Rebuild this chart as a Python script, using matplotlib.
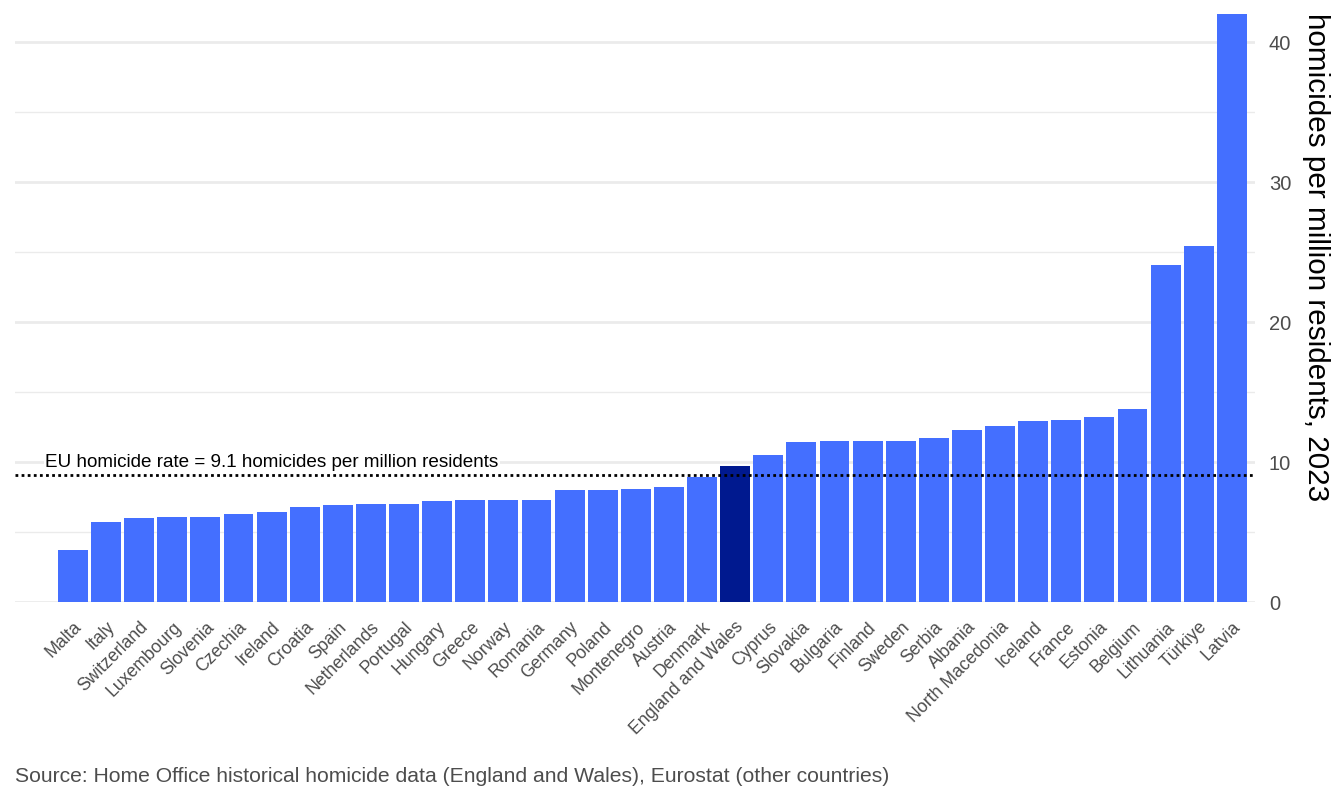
import matplotlib
matplotlib.use("Agg")
import matplotlib.pyplot as plt
from matplotlib.ticker import MultipleLocator

plt.rcParams['font.family'] = ['Liberation Sans', 'DejaVu Sans']

countries = ["Malta", "Italy", "Switzerland", "Luxembourg", "Slovenia", "Czechia", "Ireland",
             "Croatia", "Spain", "Netherlands", "Portugal", "Hungary", "Greece", "Norway",
             "Romania", "Germany", "Poland", "Montenegro", "Austria", "Denmark",
             "England and Wales", "Cyprus", "Slovakia", "Bulgaria", "Finland", "Sweden",
             "Serbia", "Albania", "North Macedonia", "Iceland", "France", "Estonia",
             "Belgium", "Lithuania", "Türkiye", "Latvia"]
rates = [3.7, 5.7, 6.0, 6.1, 6.1, 6.3, 6.4, 6.8, 6.9, 7.0, 7.0, 7.2, 7.3, 7.3,
         7.3, 8.0, 8.0, 8.1, 8.2, 8.9, 9.7, 10.5, 11.4, 11.5, 11.5, 11.5,
         11.7, 12.3, 12.6, 12.9, 13.0, 13.2, 13.8, 24.1, 25.4, 42.0]
highlight = "England and Wales"
eu_rate = 9.1
eu_label = "EU homicide rate = 9.1 homicides per million residents"
y_label = "homicides per million residents, 2023"
source = "Source: Home Office historical homicide data (England and Wales), Eurostat (other countries)"

W, H = 1344, 806
fig = plt.figure(figsize=(W / 100, H / 100), dpi=100)
ax = fig.add_axes([15 / W, (H - 602) / H, (1255 - 15) / W, (602 - 14) / H])

x = list(range(len(countries)))
colors = ["#00198f" if c == highlight else "#446fff" for c in countries]
ax.bar(x, rates, width=0.9, color=colors, zorder=2)

ax.set_xlim(-1.75, len(countries) - 0.3)
ax.set_ylim(0, 42)

ax.yaxis.set_major_locator(MultipleLocator(10))
ax.yaxis.set_minor_locator(MultipleLocator(5))
ax.grid(axis='y', which='major', color='#ebebeb', linewidth=2, zorder=0)
ax.grid(axis='y', which='minor', color='#ebebeb', linewidth=1, zorder=0)
ax.grid(axis='x', visible=False)

for s in ax.spines.values():
    s.set_visible(False)

ax.yaxis.tick_right()
ax.yaxis.set_label_position('right')
ax.tick_params(axis='y', which='both', length=0, pad=10, labelsize=14.5, labelcolor='#4d4d4d')
ax.set_ylabel(y_label, rotation=270, fontsize=21.3, color='black', va='center')
ax.yaxis.set_label_coords(1.0495, 0.587)

ax.set_xticks(x)
ax.set_xticklabels(countries, rotation=45, ha='right', va='top', rotation_mode='anchor',
                   fontsize=12.7, color='#4d4d4d')
ax.tick_params(axis='x', length=0, pad=12)

ax.axhline(eu_rate, color='black', linestyle=(0, (1, 1.2)), linewidth=2, zorder=3)
ax.text(-0.84, eu_rate + 0.25, eu_label, fontsize=13.6, color='black', ha='left', va='bottom',
        bbox=dict(facecolor='white', edgecolor='none', pad=1), zorder=4)

fig.text(15 / W, 1 - 777 / H, source, fontsize=15.2, color='#4d4d4d', ha='left', va='center')

fig.savefig("out.png", dpi=100)
